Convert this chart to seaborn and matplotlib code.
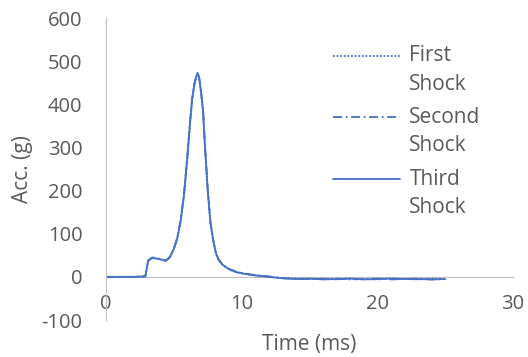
import matplotlib
matplotlib.use("Agg")
import matplotlib.pyplot as plt
from matplotlib.legend_handler import HandlerLine2D
import seaborn as sns
import pandas as pd

time_ms = [0, 1, 2, 2.9, 3.0, 3.1, 3.4, 3.8, 4.1, 4.4, 4.7, 5.0, 5.25, 5.5, 5.75, 6.0, 6.2,
           6.35, 6.5, 6.65, 6.75, 6.85, 7.0, 7.15, 7.3, 7.5, 7.7, 7.9, 8.1, 8.3, 8.6, 9.1,
           9.6, 10.2, 10.8, 11.4, 12, 12.6, 13.2, 14, 15, 16, 17, 18, 19, 20, 21, 22, 23, 24, 25]
first_shock = [0, 0, 0, 1, 18, 36, 44, 42, 40, 37, 44, 64, 88, 128, 188, 276, 356,
               410, 442, 462, 470, 463, 428, 384, 298, 198, 124, 84, 54, 39, 27, 17,
               11, 7, 4, 2, 0, -2, -3, -4, -5, -4, -6, -4, -5, -6, -4, -5, -6, -4, -5]
second_shock = [0, 0, 0, 1, 20, 38, 45, 43, 41, 38, 46, 66, 90, 131, 192, 282, 362,
                414, 446, 466, 473, 466, 432, 389, 302, 203, 127, 86, 56, 40, 28, 18,
                12, 8, 5, 3, 1, -1, -3, -4, -5, -5, -4, -6, -5, -4, -6, -5, -4, -6, -5]
third_shock = [0, 0, 0, 1, 19, 37, 44, 42, 40, 37, 45, 65, 89, 130, 190, 279, 359,
               412, 444, 464, 472, 465, 430, 387, 300, 200, 125, 85, 55, 40, 28, 17,
               11, 7, 4, 2, 0, -2, -4, -5, -4, -6, -5, -4, -6, -5, -4, -5, -5, -6, -5]

series_names = ["First\nShock", "Second\nShock", "Third\nShock"]
x_ticks = [0, 10, 20, 30]
y_ticks = [-100, 0, 100, 200, 300, 400, 500, 600]

sns.set_style("white")
plt.rcParams['font.family'] = ['Open Sans', 'DejaVu Sans']
plt.rcParams['axes.unicode_minus'] = False

fig = plt.figure(figsize=(5.28, 3.57), dpi=100)
ax = fig.add_axes([106/528, 1-320/357, (513-106)/528, (320-18)/357])

blue = "#4472C4"
gray = "#595959"
styles = [(0, (1, 1)), (0, (5, 2, 1, 2)), "-"]
for vals, name, ls in zip([first_shock, second_shock, third_shock], series_names, styles):
    df = pd.DataFrame({"t": time_ms, "a": vals})
    sns.lineplot(data=df, x="t", y="a", ax=ax, color=blue, linestyle=ls, linewidth=1.3,
                 label=name)

ax.set_xlim(0, 30)
ax.set_ylim(-100, 600)
ax.set_xticks(x_ticks)
ax.set_yticks(y_ticks)
ax.tick_params(length=0, labelsize=14.5, colors=gray)
ax.tick_params(axis='x', pad=12)
ax.tick_params(axis='y', pad=17)
for s in ["top", "right"]:
    ax.spines[s].set_visible(False)
ax.spines["bottom"].set_position(("data", 0))
ax.spines["bottom"].set_color("#bfbfbf")
ax.spines["left"].set_color("#bfbfbf")
ax.spines["bottom"].set_zorder(0)
ax.set_xlabel("Time (ms)", fontsize=15, color=gray, labelpad=0)
ax.xaxis.set_label_coords(0.5, -0.045)
ax.set_ylabel("Acc. (g)", fontsize=15, color=gray)
ax.yaxis.set_label_coords(-0.18, 0.5)

LEG_FS = 15
LINESP = 1.45


class HandlerTop(HandlerLine2D):
    def create_artists(self, legend, orig_handle, xdescent, ydescent, width, height,
                       fontsize, trans):
        arts = super().create_artists(legend, orig_handle, xdescent, ydescent, width,
                                      height, fontsize, trans)
        shift = 0.5 * LINESP * fontsize
        for a in arts:
            y = a.get_ydata()
            a.set_ydata([v + shift for v in y])
        return arts


leg = ax.legend(loc="upper left", bbox_to_anchor=(325/528, 1-37/357), bbox_transform=fig.transFigure,
                frameon=False, fontsize=LEG_FS, handlelength=3.2, handletextpad=0.45,
                labelspacing=0.6, borderaxespad=0,
                handler_map={matplotlib.lines.Line2D: HandlerTop()})
for t in leg.get_texts():
    t.set_color(gray)
    t.set_linespacing(LINESP)

fig.savefig("out.png", dpi=100)
